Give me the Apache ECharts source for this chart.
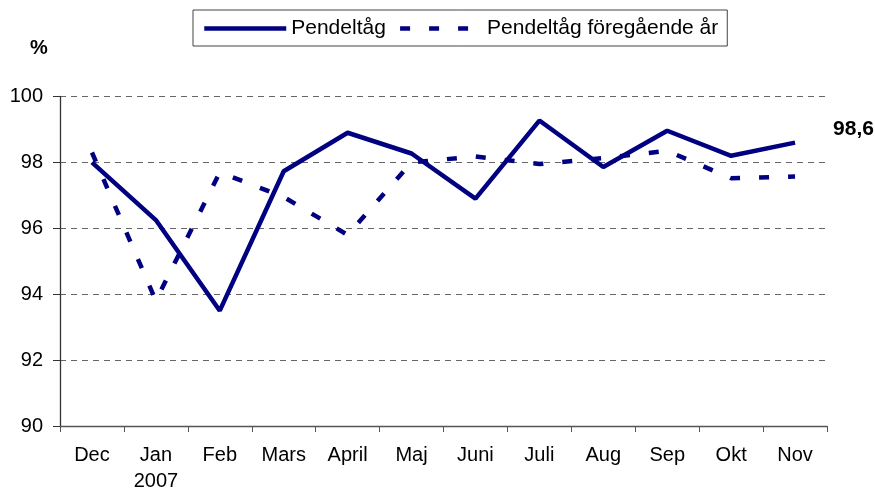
<!DOCTYPE html>
<html>
<head>
<meta charset="utf-8">
<script src="https://cdn.jsdelivr.net/npm/echarts@6/dist/echarts.min.js"></script>
<style>html,body{margin:0;padding:0;background:#fff}#c{width:875px;height:494px}</style>
</head>
<body>
<div id="c"></div>
<script>
var categories = ['Dec', 'Jan\n2007', 'Feb', 'Mars', 'April', 'Maj', 'Juni', 'Juli', 'Aug', 'Sep', 'Okt', 'Nov'];
var pendeltag = [98.0, 96.25, 93.5, 97.73, 98.9, 98.27, 96.9, 99.27, 97.86, 98.96, 98.2, 98.6];
var pendeltagPrev = [98.3, 93.8, 97.7, 96.95, 95.8, 98.0, 98.18, 97.95, 98.13, 98.35, 97.52, 97.57];
var seriesNames = ['Pendeltåg', 'Pendeltåg föregående år'];
var yTicks = [90, 92, 94, 96, 98, 100];

var font = 'Liberation Sans, Arial, sans-serif';
var navy = '#000080';
var chart = echarts.init(document.getElementById('c'));
chart.setOption({
  animation: false,
  backgroundColor: '#fff',
  textStyle: { fontFamily: font },
  grid: { left: 60, right: 48, top: 96.5, bottom: 65 },
  legend: {
    left: 193, top: 10,
    padding: [8, 9, 7, 9],
    itemWidth: 82, itemHeight: 20, itemGap: 12,
    borderColor: '#444', borderWidth: 1,
    itemStyle: { opacity: 0 },
    lineStyle: { width: 4.5 },
    textStyle: { fontSize: 21, color: '#000', fontFamily: font },
    data: seriesNames
  },
  graphic: [
    { type: 'text', left: 30, top: 38, style: { text: '%', font: 'bold 20px ' + font, fill: '#000' } }
  ],
  xAxis: {
    type: 'category',
    data: categories,
    boundaryGap: true,
    axisLine: { lineStyle: { color: '#555', width: 1.3 } },
    axisTick: { show: true, length: 6, inside: false, lineStyle: { color: '#555' } },
    axisLabel: { fontSize: 20, color: '#000', margin: 16, lineHeight: 26, interval: 0, fontFamily: font },
    splitLine: { show: false }
  },
  yAxis: {
    type: 'value',
    min: yTicks[0], max: yTicks[yTicks.length - 1], interval: 2,
    axisLine: { show: true, lineStyle: { color: '#333', width: 1.3 } },
    axisTick: { show: true, length: 7, lineStyle: { color: '#333' } },
    axisLabel: { fontSize: 20, color: '#000', margin: 17, fontFamily: font },
    splitLine: { show: true, lineStyle: { color: '#666', type: [6, 5], width: 1.2 } }
  },
  series: [
    {
      name: seriesNames[0], type: 'line', data: pendeltag,
      symbol: 'none', lineStyle: { color: navy, width: 4.5 }, itemStyle: { color: navy },
      z: 3,
      endLabel: {
        show: true, distance: 0, offset: [38, -13],
        formatter: function (p) { return String(p.value).replace('.', ','); },
        fontSize: 21, fontWeight: 'bold', color: '#000', fontFamily: font
      }
    },
    {
      name: seriesNames[1], type: 'line', data: pendeltagPrev,
      symbol: 'none', lineStyle: { color: navy, width: 4.5, type: [10, 19], cap: 'butt' }, itemStyle: { color: navy },
      z: 2
    }
  ]
});
</script>
</body>
</html>
